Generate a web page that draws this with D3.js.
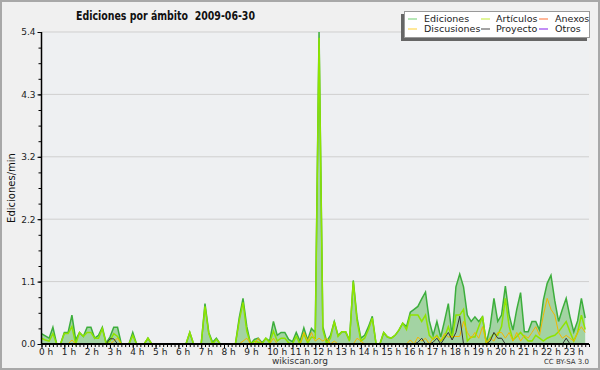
<!DOCTYPE html>
<html>
<head>
<meta charset="utf-8">
<script src="https://cdn.jsdelivr.net/npm/d3@7"></script>
<style>
  html, body { margin: 0; padding: 0; background: #f0f0f0; }
  svg { display: block; font-family: "DejaVu Sans", sans-serif; }
</style>
</head>
<body>
<div id="chart"></div>
<script>
// Data: one value per 10 minutes, edits per minute (one row = one hour)
const ediciones = [
  0.18, 0.14, 0.10, 0.29, 0, 0,
  0.20, 0.20, 0.50, 0.07, 0.20, 0.13,
  0.29, 0.29, 0.10, 0.15, 0.29, 0.02,
  0.12, 0.29, 0.29, 0, 0, 0,
  0.20, 0, 0, 0, 0.10, 0,
  0, 0, 0, 0, 0, 0,
  0, 0, 0, 0.20, 0, 0,
  0, 0.70, 0.20, 0.03, 0.10, 0,
  0, 0, 0, 0, 0.45, 0.79,
  0.30, 0, 0.08, 0.10, 0.02, 0.10,
  0.05, 0.39, 0.15, 0.20, 0.20, 0.08,
  0.04, 0.20, 0.05, 0.28, 0.07, 0.27,
  0.20, 5.40, 0.30, 0.05, 0.15, 0.39,
  0.15, 0.21, 0.21, 0.07, 1.10, 0.45,
  0.10, 0.15, 0.30, 0.48, 0, 0,
  0.20, 0.12, 0.10, 0.15, 0.24, 0.36,
  0.30, 0.55, 0.60, 0.65, 0.78, 0.90,
  0.40, 0.15, 0.39, 0.12, 0.40, 0.70,
  0.13, 0.99, 1.21, 0.99, 0.50, 0.39,
  0.47, 0.39, 0.47, 0.02, 0.30, 0.79,
  0.39, 0.50, 1.00, 0.50, 0.24, 0.60,
  0.89, 0.21, 0.21, 0.39, 0.39, 0.24,
  0.76, 1.05, 1.19, 0.75, 0.39, 0.60,
  0.79, 0.47, 0.21, 0.40, 0.79, 0.45
];
const articulos = [
  0.10, 0.07, 0.05, 0.18, 0, 0,
  0.18, 0.18, 0.30, 0, 0.20, 0.13,
  0.20, 0.20, 0.10, 0.10, 0.27, 0,
  0.05, 0.18, 0.13, 0, 0, 0,
  0.15, 0, 0, 0, 0.10, 0,
  0, 0, 0, 0, 0, 0,
  0, 0, 0, 0.20, 0, 0,
  0, 0.65, 0.18, 0, 0.08, 0,
  0, 0, 0, 0, 0.40, 0.72,
  0.22, 0, 0.05, 0.03, 0, 0.10,
  0.02, 0.22, 0.05, 0.10, 0.10, 0.02,
  0, 0.13, 0, 0.18, 0.02, 0.12,
  0.10, 5.30, 0.25, 0, 0.10, 0.39,
  0.13, 0.21, 0.21, 0.05, 1.08, 0.40,
  0.05, 0.10, 0.25, 0.45, 0, 0,
  0.20, 0.12, 0.10, 0.15, 0.24, 0.36,
  0.25, 0.50, 0.50, 0.50, 0.39, 0.50,
  0.15, 0.08, 0.15, 0.05, 0.12, 0.30,
  0.10, 0.50, 0.50, 0.60, 0.05, 0.12,
  0.12, 0.30, 0.48, 0, 0.10, 0.18,
  0.15, 0.30, 0.79, 0.30, 0.07, 0.13,
  0.20, 0.12, 0.05, 0.05, 0.15, 0.10,
  0.05, 0.10, 0.13, 0.15, 0.21, 0.30,
  0.39, 0.21, 0.05, 0.20, 0.50, 0.25
];
const discusiones = [
  0, 0, 0, 0, 0, 0,
  0, 0, 0.07, 0, 0, 0,
  0, 0, 0, 0, 0, 0,
  0, 0.05, 0.10, 0, 0, 0,
  0, 0, 0, 0, 0, 0,
  0, 0, 0, 0, 0, 0,
  0, 0, 0, 0, 0, 0,
  0, 0, 0, 0, 0, 0,
  0, 0, 0, 0, 0, 0.05,
  0.10, 0, 0, 0.10, 0, 0,
  0, 0.10, 0, 0, 0, 0,
  0, 0, 0, 0.20, 0.05, 0.20,
  0.05, 0.10, 0.05, 0.10, 0, 0.05,
  0, 0, 0, 0, 0, 0.10,
  0.05, 0, 0, 0, 0, 0,
  0, 0, 0, 0, 0, 0,
  0, 0.07, 0, 0.12, 0.05, 0.10,
  0, 0.10, 0.13, 0.05, 0.18, 0.12,
  0.13, 0.13, 0.13, 0.39, 0.20, 0.10,
  0.20, 0.10, 0.30, 0.02, 0.10, 0.05,
  0.20, 0.20, 0.10, 0.20, 0.05, 0.20,
  0.05, 0.15, 0.10, 0.20, 0.30, 0.15,
  0.50, 0.79, 0.60, 0.50, 0.20, 0.10,
  0.15, 0.10, 0.05, 0.20, 0.30, 0.20
];
const proyecto = [
  0, 0, 0, 0, 0, 0,
  0, 0, 0, 0, 0, 0,
  0, 0, 0, 0, 0, 0,
  0.09, 0.09, 0, 0, 0, 0,
  0, 0, 0, 0, 0, 0,
  0, 0, 0, 0, 0, 0,
  0, 0, 0, 0, 0, 0,
  0, 0, 0, 0, 0, 0,
  0, 0, 0, 0, 0, 0,
  0, 0, 0, 0, 0, 0,
  0, 0, 0, 0, 0, 0,
  0, 0, 0, 0, 0, 0,
  0, 0, 0, 0, 0, 0,
  0, 0, 0, 0, 0, 0,
  0, 0, 0, 0, 0, 0,
  0, 0, 0, 0, 0, 0,
  0, 0, 0, 0.03, 0.10, 0,
  0, 0.03, 0.10, 0, 0.10, 0.20,
  0.07, 0.20, 0.48, 0, 0, 0,
  0, 0, 0, 0, 0.05, 0.20,
  0.10, 0.10, 0, 0, 0, 0,
  0, 0, 0, 0, 0, 0,
  0, 0, 0, 0, 0, 0,
  0.10, 0, 0, 0, 0, 0
];
// Anexos and Otros stay at zero all day: only in the legend

const STEP_MIN = 10;
const hours = d3.range(24);
const yTicks = [0, 1.08, 2.16, 3.24, 4.32, 5.4];
const yMinorStep = 0.27;

const legendNames = ['Ediciones', 'Artículos', 'Anexos', 'Discusiones', 'Proyecto', 'Otros'];
const legendColors = ['#88d888', '#ccee55', '#ff8855', '#ffd955', '#666666', '#9944ee'];

const title = 'Ediciones por ámbito  2009-06-30';

// Layout
const WIDTH = 600;
const HEIGHT = 370;
const P = { left: 41.5, right: 589, top: 32, bottom: 344 };

const x = d3.scaleLinear().domain([0, 24 * 60]).range([P.left, P.right]);
const y = d3.scaleLinear().domain([0, d3.max(yTicks)]).range([P.bottom, P.top]);

const svg = d3.select('#chart').append('svg')
  .attr('width', WIDTH)
  .attr('height', HEIGHT);

svg.append('rect')
  .attr('x', 1).attr('y', 1)
  .attr('width', WIDTH - 2).attr('height', HEIGHT - 2)
  .attr('fill', '#f0f0f0')
  .attr('stroke', '#a8a8a8')
  .attr('stroke-width', 2);

svg.append('rect')
  .attr('x', P.left).attr('y', P.top)
  .attr('width', P.right - P.left).attr('height', P.bottom - P.top)
  .attr('fill', '#eef0f2');

// grid
svg.append('g')
  .selectAll('line')
  .data(yTicks.filter((d) => d > 0))
  .join('line')
  .attr('x1', P.left).attr('x2', P.right)
  .attr('y1', (d) => y(d)).attr('y2', (d) => y(d))
  .attr('stroke', '#cfcfcf')
  .attr('stroke-width', 1);

// series
const xi = (d, i) => x(i * STEP_MIN);
const area = d3.area().x(xi).y0(y(0)).y1((d) => y(d));
const line = d3.line().x(xi).y((d) => y(d));

svg.append('path')
  .datum(ediciones)
  .attr('d', area)
  .attr('fill', '#a3d3a3');

const series = [
  { values: ediciones, color: '#3cae3c', width: 1.5 },
  { values: articulos, color: '#8ee400', width: 1.5 },
  { values: discusiones, color: '#f2b800', width: 1 },
  { values: proyecto, color: '#333333', width: 1 }
];

svg.append('g')
  .selectAll('path')
  .data(series)
  .join('path')
  .attr('d', (d) => line(d.values))
  .attr('fill', 'none')
  .attr('stroke', (d) => d.color)
  .attr('stroke-width', (d) => d.width)
  .attr('stroke-linejoin', 'miter');

// axes
const yAxis = d3.axisLeft(y)
  .tickValues(yTicks)
  .tickFormat(d3.format('.1f'))
  .tickSize(4)
  .tickPadding(2);

const yMinor = d3.axisLeft(y)
  .tickValues(d3.range(0, d3.max(yTicks) + 1e-6, yMinorStep))
  .tickFormat('')
  .tickSize(3);

const xAxis = d3.axisBottom(x)
  .tickValues(hours.map((h) => h * 60))
  .tickFormat((d) => `${d / 60} h`)
  .tickSize(4)
  .tickPadding(1);

const xMinor = d3.axisBottom(x)
  .tickValues(d3.range(0, 24 * 60 + 1, STEP_MIN))
  .tickFormat('')
  .tickSize(3);

function styleAxis(g) {
  g.select('.domain').remove();
  g.selectAll('.tick line').attr('stroke', '#000');
  g.selectAll('.tick text')
    .attr('fill', '#222')
    .style('font-family', '"DejaVu Sans", sans-serif')
    .style('font-size', '9px');
}

svg.append('g').attr('transform', `translate(${P.left},0)`).call(yMinor).call(styleAxis);
svg.append('g').attr('transform', `translate(${P.left},0)`).call(yAxis).call(styleAxis);
svg.append('g').attr('transform', `translate(0,${P.bottom})`).call(xMinor).call(styleAxis);
svg.append('g').attr('transform', `translate(0,${P.bottom})`).call(xAxis).call(styleAxis)
  .selectAll('.tick text')
  .attr('text-anchor', 'start')
  .attr('dx', -3);

svg.append('line')
  .attr('x1', P.left).attr('x2', P.left)
  .attr('y1', P.top).attr('y2', P.bottom)
  .attr('stroke', '#000').attr('stroke-width', 1.5);
svg.append('line')
  .attr('x1', P.left).attr('x2', P.right)
  .attr('y1', P.bottom).attr('y2', P.bottom)
  .attr('stroke', '#000').attr('stroke-width', 2);

// texts
svg.append('text')
  .attr('x', 76).attr('y', 20)
  .attr('font-family', '"DejaVu Sans Condensed", "DejaVu Sans", sans-serif')
  .attr('font-weight', 'bold')
  .attr('font-size', 12)
  .attr('textLength', 179)
  .attr('lengthAdjust', 'spacingAndGlyphs')
  .attr('fill', '#111')
  .style('white-space', 'pre')
  .text(title);

svg.append('text')
  .attr('transform', `translate(15,${(P.top + P.bottom) / 2}) rotate(-90)`)
  .attr('text-anchor', 'middle')
  .attr('font-size', 10)
  .attr('fill', '#111')
  .text('Ediciones/min');

svg.append('text')
  .attr('x', 300).attr('y', 364)
  .attr('text-anchor', 'middle')
  .attr('font-size', 9)
  .attr('fill', '#333')
  .text('wikiscan.org');

svg.append('text')
  .attr('x', 589).attr('y', 364)
  .attr('text-anchor', 'end')
  .attr('font-size', 7)
  .attr('fill', '#333')
  .text('CC BY-SA 3.0');

// legend
const legend = svg.append('g');
legend.append('rect')
  .attr('x', 401).attr('y', 14)
  .attr('width', 186).attr('height', 27)
  .attr('fill', '#666');
legend.append('rect')
  .attr('x', 404.5).attr('y', 11.5)
  .attr('width', 185).attr('height', 26)
  .attr('fill', '#fff')
  .attr('stroke', '#999');

const colLine = [408, 481, 539];
const colText = [424, 496, 555];
const rowY = [19, 29];

const item = legend.selectAll('g.item')
  .data(legendNames)
  .join('g')
  .attr('class', 'item')
  .attr('transform', (d, i) => `translate(0,${rowY[Math.floor(i / 3)]})`);

item.append('line')
  .attr('x1', (d, i) => colLine[i % 3])
  .attr('x2', (d, i) => colLine[i % 3] + 9)
  .attr('stroke', (d, i) => legendColors[i])
  .attr('stroke-width', 1.2);

item.append('text')
  .attr('x', (d, i) => colText[i % 3])
  .attr('dy', '0.35em')
  .attr('font-size', 9.5)
  .attr('fill', '#222')
  .text((d) => d);
</script>
</body>
</html>
